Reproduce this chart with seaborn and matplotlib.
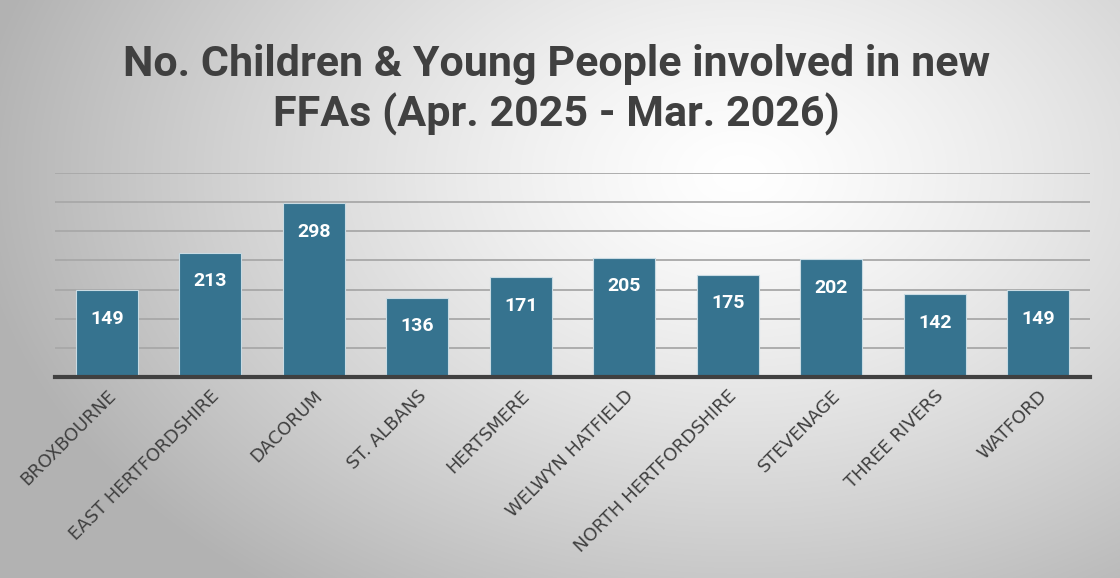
import matplotlib

matplotlib.use("Agg")

import matplotlib.pyplot as plt
import numpy as np
import pandas as pd
import seaborn as sns

DISTRICTS = [
    "BROXBOURNE",
    "EAST HERTFORDSHIRE",
    "DACORUM",
    "ST. ALBANS",
    "HERTSMERE",
    "WELWYN HATFIELD",
    "NORTH HERTFORDSHIRE",
    "STEVENAGE",
    "THREE RIVERS",
    "WATFORD",
]
CHILDREN = [149, 213, 298, 136, 171, 205, 175, 202, 142, 149]
Y_TICKS = [0, 50, 100, 150, 200, 250, 300, 350]

TITLE = "No. Children & Young People involved in new\nFFAs (Apr. 2025 - Mar. 2026)"
BAR_COLOR = "#36738f"
TEXT_COLOR = "#404040"


def _background(fig):
    # radial grey-to-white gradient behind everything
    h, w = 578, 1120
    yy, xx = np.mgrid[0:h, 0:w]
    cx, cy = 0.66 * w, 0.30 * h
    d = np.sqrt(((xx - cx) / (0.72 * w)) ** 2 + ((yy - cy) / (0.95 * h)) ** 2)
    v = np.clip(1.0 - 0.32 * d ** 1.3, 0.70, 1.0)
    bg = fig.add_axes([0, 0, 1, 1], zorder=-10)
    bg.imshow(np.dstack([v, v, v]), aspect="auto", extent=[0, 1, 0, 1])
    bg.axis("off")


def main():
    sns.set_theme(style="white")
    plt.rcParams["font.family"] = ["Roboto", "DejaVu Sans"]

    df = pd.DataFrame({"district": DISTRICTS, "children": CHILDREN})

    fig = plt.figure(figsize=(11.2, 5.78), dpi=100)
    _background(fig)
    ax = fig.add_axes([55 / 1120, 1 - 377 / 578, 1035 / 1120, 204 / 578])
    ax.patch.set_alpha(0)

    sns.barplot(
        data=df, x="district", y="children", color=BAR_COLOR, width=0.6,
        saturation=1, edgecolor="#c9dbe3", linewidth=0.8, ax=ax, zorder=3,
    )

    for container in ax.containers:
        ax.bar_label(
            container, labels=[str(v) for v in CHILDREN], label_type="edge",
            padding=-27, color="white", fontsize=14, fontweight="bold",
        )

    ax.set_ylim(0, 350)
    ax.set_xlim(-0.5, len(DISTRICTS) - 0.5)
    ax.set_yticks(Y_TICKS)
    ax.set_yticklabels([])
    ax.yaxis.grid(True, color="#a8a8a8", linewidth=1.3, zorder=0)
    ax.set_axisbelow(True)
    ax.tick_params(axis="both", length=0)
    ax.set_xlabel("")
    ax.set_ylabel("")
    for side in ["top", "left", "right"]:
        ax.spines[side].set_visible(False)
    ax.spines["bottom"].set_color(TEXT_COLOR)
    ax.spines["bottom"].set_linewidth(3)
    ax.spines["bottom"].set_zorder(5)

    ax.set_xticks(range(len(DISTRICTS)))
    ax.set_xticklabels(
        DISTRICTS, rotation=45, ha="right", rotation_mode="anchor",
        fontsize=13, color=TEXT_COLOR,
    )
    for lbl in ax.get_xticklabels():
        lbl.set_family(["DejaVu Sans"])
    ax.tick_params(axis="x", pad=7)

    fig.text(
        0.497, 1 - 126 / 578, TITLE, ha="center", va="baseline", fontsize=31,
        fontweight="bold", color=TEXT_COLOR, linespacing=1.22,
    )

    fig.savefig("out.png", dpi=100)
    plt.close(fig)


if __name__ == "__main__":
    main()
